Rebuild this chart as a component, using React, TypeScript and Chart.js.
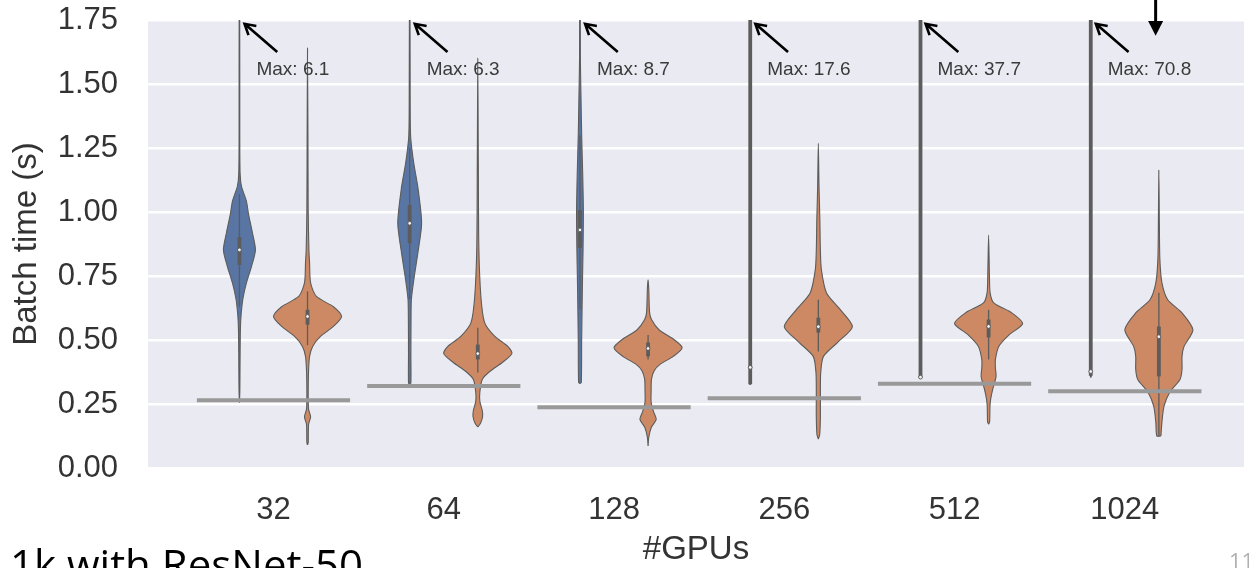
import React, { useEffect, useRef } from 'react';
import { Chart, registerables } from 'chart.js';

Chart.register(...registerables);

// ---------- data ----------
const categories = ['32', '64', '128', '256', '512', '1024'];
const maxLabels = ['Max: 6.1', 'Max: 6.3', 'Max: 8.7', 'Max: 17.6', 'Max: 37.7', 'Max: 70.8'];
const yTickValues = [0, 0.25, 0.5, 0.75, 1.0, 1.25, 1.5, 1.75];
const refLineValues = [0.265, 0.32, 0.237, 0.272, 0.329, 0.3];

// inner box statistics (blue = first hue, orange = second hue)
const blueQ1 = [0.793, 0.878, 0.86, 0.327, 0.355, 0.36];
const blueQ3 = [0.902, 1.027, 1.007, 1.8, 1.8, 1.8];
const blueMedian = [0.852, 0.956, 0.93, 0.393, 0.355, 0.377];
const blueWhiskerLow = [0.63, 0.66, 0.62, 0.325, 0.352, 0.354];
const blueWhiskerHigh = [1.07, 1.25, 1.3, 1.8, 1.8, 1.8];

const orangeQ1 = [0.56, 0.424, 0.436, 0.529, 0.51, 0.358];
const orangeQ3 = [0.618, 0.482, 0.49, 0.587, 0.58, 0.553];
const orangeMedian = [0.592, 0.447, 0.467, 0.552, 0.553, 0.513];
const orangeWhiskerLow = [0.48, 0.373, 0.424, 0.455, 0.424, 0.125];
const orangeWhiskerHigh = [0.69, 0.548, 0.52, 0.657, 0.618, 0.685];

// violin density profiles: [value, relative half-width]
const blue32: [number, number][] = [[0.255, 0], [0.3, 0.012], [0.45, 0.02], [0.55, 0.03], [0.6, 0.05], [0.66, 0.1], [0.72, 0.2], [0.79, 0.36], [0.852, 0.47], [0.92, 0.38], [0.99, 0.27], [1.045, 0.2], [1.1, 0.06], [1.15, 0.02], [1.3, 0.01], [1.8, 0.008]];
const blue64: [number, number][] = [[0.327, 0], [0.332, 0.035], [0.45, 0.035], [0.6, 0.04], [0.66, 0.05], [0.735, 0.12], [0.84, 0.24], [0.957, 0.35], [1.097, 0.24], [1.19, 0.12], [1.29, 0.03], [1.4, 0.015], [1.8, 0.008]];
const blue128: [number, number][] = [[0.33, 0], [0.335, 0.04], [0.5, 0.05], [0.7, 0.07], [0.85, 0.09], [1.0, 0.1], [1.15, 0.08], [1.3, 0.05], [1.45, 0.03], [1.6, 0.012], [1.8, 0.008]];
const blue256: [number, number][] = [[0.325, 0], [0.33, 0.01], [1.8, 0.01]];
const blue512: [number, number][] = [[0.352, 0], [0.356, 0.01], [1.8, 0.01]];
const blue1024: [number, number][] = [[0.354, 0], [0.358, 0.01], [1.8, 0.01]];

const orange32: [number, number][] = [[0.09, 0], [0.1, 0.02], [0.17, 0.03], [0.2, 0.09], [0.23, 0.03], [0.3, 0.02], [0.38, 0.03], [0.436, 0.06], [0.475, 0.15], [0.514, 0.38], [0.553, 0.76], [0.592, 1.0], [0.63, 0.76], [0.67, 0.26], [0.723, 0.09], [0.8, 0.06], [0.852, 0.04], [1.0, 0.02], [1.3, 0.012], [1.64, 0]];
const orange64: [number, number][] = [[0.16, 0], [0.175, 0.08], [0.2, 0.14], [0.225, 0.13], [0.26, 0.06], [0.296, 0.06], [0.346, 0.13], [0.377, 0.35], [0.412, 0.72], [0.447, 1.0], [0.475, 0.88], [0.514, 0.5], [0.568, 0.2], [0.67, 0.09], [0.864, 0.03], [1.2, 0.015], [1.6, 0]];
const orange128: [number, number][] = [[0.086, 0], [0.12, 0.02], [0.16, 0.1], [0.19, 0.24], [0.22, 0.16], [0.257, 0.09], [0.3, 0.09], [0.346, 0.1], [0.38, 0.18], [0.405, 0.35], [0.436, 0.74], [0.47, 1.0], [0.502, 0.76], [0.54, 0.32], [0.58, 0.1], [0.607, 0.045], [0.7, 0.02], [0.735, 0]];
const orange256: [number, number][] = [[0.113, 0], [0.13, 0.04], [0.2, 0.06], [0.3, 0.06], [0.373, 0.07], [0.436, 0.15], [0.49, 0.56], [0.552, 1.0], [0.618, 0.65], [0.684, 0.24], [0.774, 0.09], [0.85, 0.06], [0.968, 0.045], [1.1, 0.02], [1.268, 0]];
const orange512: [number, number][] = [[0.171, 0], [0.18, 0.03], [0.24, 0.04], [0.268, 0.06], [0.307, 0.12], [0.358, 0.22], [0.39, 0.2], [0.424, 0.2], [0.475, 0.3], [0.52, 0.6], [0.564, 1.0], [0.606, 0.68], [0.645, 0.15], [0.684, 0.045], [0.75, 0.025], [0.91, 0]];
const orange1024: [number, number][] = [[0.125, 0.06], [0.179, 0.09], [0.241, 0.15], [0.296, 0.32], [0.346, 0.62], [0.385, 0.68], [0.436, 0.68], [0.475, 0.74], [0.54, 1.0], [0.606, 0.68], [0.657, 0.26], [0.723, 0.09], [0.813, 0.03], [0.95, 0.015], [1.163, 0]];

const blueProfiles = [blue32, blue64, blue128, blue256, blue512, blue1024];
const orangeProfiles = [orange32, orange64, orange128, orange256, orange512, orange1024];

// ---------- styling ----------
const FONT = "'Liberation Sans', Arial, Helvetica, sans-serif";
const TEXT = '#333333';
const BLUE = '#5875A3';
const ORANGE = '#CC8963';
const EDGE = '#5c5c5c';
const BG = '#EAEAF2';
const HALF = 0.2; // max half-width of a violin, in category units
const DODGE = 0.2;
const REF_HALF = 0.45;

function violinPoints(center: number, profile: [number, number][]) {
  const right = profile.map(([y, w]) => ({ x: center + w * HALF, y }));
  const rev = [...profile].reverse();
  const left: { x: number; y: number }[] = [];
  rev.forEach(([y, w], k) => {
    if (k === 0 && w === 0) return;
    if (k === rev.length - 1 && w === 0) return;
    left.push({ x: center - w * HALF, y });
  });
  return [...right, ...left, right[0]];
}

function buildDatasets() {
  const ds: any[] = [];
  const groups = [
    { profiles: blueProfiles, q1: blueQ1, q3: blueQ3, med: blueMedian, wl: blueWhiskerLow, wh: blueWhiskerHigh, off: -DODGE, color: BLUE },
    { profiles: orangeProfiles, q1: orangeQ1, q3: orangeQ3, med: orangeMedian, wl: orangeWhiskerLow, wh: orangeWhiskerHigh, off: DODGE, color: ORANGE },
  ];
  groups.forEach((g) => {
    categories.forEach((_, i) => {
      const c = i + g.off;
      ds.push({
        data: violinPoints(c, g.profiles[i]),
        borderColor: EDGE,
        borderWidth: 1.1,
        backgroundColor: g.color,
        fill: 'shape',
        tension: 0.25,
        pointRadius: 0,
        order: 4,
      });
      ds.push({
        data: [{ x: c, y: g.wl[i] }, { x: c, y: g.wh[i] }],
        borderColor: EDGE,
        borderWidth: 1.3,
        pointRadius: 0,
        fill: false,
        order: 3,
      });
      ds.push({
        data: [{ x: c, y: g.q1[i] }, { x: c, y: g.q3[i] }],
        borderColor: EDGE,
        borderWidth: 3.8,
        pointRadius: 0,
        fill: false,
        order: 1,
      });
      ds.push({
        data: [{ x: c, y: g.med[i] }],
        showLine: false,
        pointRadius: 1.9,
        pointBackgroundColor: '#f4f4f4',
        pointBorderColor: EDGE,
        pointBorderWidth: 1,
        order: 0,
      });
    });
  });
  refLineValues.forEach((v, i) => {
    ds.push({
      data: [{ x: i - REF_HALF, y: v }, { x: i + REF_HALF, y: v }],
      borderColor: '#999999',
      borderWidth: 4,
      pointRadius: 0,
      fill: false,
      order: 2,
    });
  });
  return ds;
}

const backgroundPlugin = {
  id: 'bgArea',
  beforeDraw(chart: any) {
    const { ctx, chartArea } = chart;
    ctx.save();
    ctx.fillStyle = BG;
    ctx.fillRect(chartArea.left, chartArea.top, chartArea.right - chartArea.left, chartArea.bottom - chartArea.top);
    ctx.restore();
  },
};

function drawOpenArrow(ctx: CanvasRenderingContext2D, x0: number, y0: number, x1: number, y1: number) {
  const ang = Math.atan2(y1 - y0, x1 - x0);
  const len = 12;
  const spread = Math.PI / 6;
  ctx.beginPath();
  ctx.moveTo(x0, y0);
  ctx.lineTo(x1, y1);
  ctx.moveTo(x1 - len * Math.cos(ang - spread), y1 - len * Math.sin(ang - spread));
  ctx.lineTo(x1, y1);
  ctx.lineTo(x1 - len * Math.cos(ang + spread), y1 - len * Math.sin(ang + spread));
  ctx.stroke();
}

const annotationPlugin = {
  id: 'maxNotes',
  afterDraw(chart: any) {
    const { ctx } = chart;
    const xs = chart.scales.x;
    const ys = chart.scales.y;
    ctx.save();
    ctx.strokeStyle = '#000000';
    ctx.fillStyle = '#000000';
    ctx.lineWidth = 2.6;
    ctx.lineCap = 'butt';
    ctx.lineJoin = 'miter';
    categories.forEach((_, i) => {
      const c = i - DODGE;
      drawOpenArrow(
        ctx,
        xs.getPixelForValue(c + 0.222), ys.getPixelForValue(1.625),
        xs.getPixelForValue(c + 0.03), ys.getPixelForValue(1.735)
      );
    });
    ctx.font = `19px ${FONT}`;
    ctx.fillStyle = '#3a3a3a';
    ctx.textAlign = 'left';
    ctx.textBaseline = 'middle';
    maxLabels.forEach((t, i) => {
      ctx.fillText(t, xs.getPixelForValue(i - DODGE + 0.1), ys.getPixelForValue(1.556));
    });
    // extra downward arrow near the last group
    const ax = xs.getPixelForValue(5.181);
    const tipY = ys.getPixelForValue(1.688);
    const baseY = ys.getPixelForValue(1.746);
    ctx.fillStyle = '#000000';
    ctx.lineWidth = 3;
    ctx.beginPath();
    ctx.moveTo(ax, ys.getPixelForValue(1.84));
    ctx.lineTo(ax, baseY + 1);
    ctx.stroke();
    ctx.beginPath();
    ctx.moveTo(ax - 7.5, baseY);
    ctx.lineTo(ax + 7.5, baseY);
    ctx.lineTo(ax, tipY);
    ctx.closePath();
    ctx.fill();
    ctx.restore();
  },
};

export default function App() {
  const canvasRef = useRef<HTMLCanvasElement | null>(null);

  useEffect(() => {
    if (!canvasRef.current) return;
    Chart.defaults.font.family = FONT;
    Chart.defaults.color = TEXT;
    const chart = new Chart(canvasRef.current, {
      type: 'line',
      data: { datasets: buildDatasets() },
      options: {
        animation: false,
        responsive: false,
        devicePixelRatio: 1,
        layout: { padding: { top: 20, left: 0, right: 0, bottom: 0 } },
        plugins: { legend: { display: false }, tooltip: { enabled: false } },
        events: [],
        scales: {
          x: {
            type: 'linear',
            min: -0.737,
            max: 5.7,
            afterBuildTicks: (s: any) => {
              s.ticks = categories.map((_, i) => ({ value: i }));
            },
            ticks: {
              callback: (v: any) => categories[Math.round(Number(v))],
              font: { size: 31, family: FONT },
              color: TEXT,
              padding: 24,
              autoSkip: false,
              maxRotation: 0,
            },
            grid: { display: false, drawTicks: false },
            border: { display: false },
            title: {
              display: true,
              text: '#GPUs',
              color: TEXT,
              font: { size: 33, family: FONT, lineHeight: 1.0 },
              padding: { top: 0, bottom: 1.5 },
            },
            afterFit: (s: any) => {
              s.height = 100;
              s.paddingLeft = 0;
              s.paddingRight = 0;
            },
          },
          y: {
            type: 'linear',
            min: 0,
            max: 1.75,
            afterBuildTicks: (s: any) => {
              s.ticks = yTickValues.map((v) => ({ value: v }));
            },
            ticks: {
              callback: (v: any) => Number(v).toFixed(2),
              font: { size: 31, family: FONT },
              color: TEXT,
              padding: 30,
            },
            grid: { color: '#ffffff', lineWidth: 2.5, drawTicks: false },
            border: { display: false },
            title: {
              display: true,
              text: 'Batch time (s)',
              color: TEXT,
              font: { size: 33, family: FONT, lineHeight: 1.2 },
              padding: { top: 7, bottom: 0 },
            },
            afterFit: (s: any) => {
              s.width = 148;
              s.paddingTop = 0;
              s.paddingBottom = 0;
            },
          },
        },
      },
      plugins: [backgroundPlugin, annotationPlugin],
    });
    return () => chart.destroy();
  }, []);

  return (
    <div
      style={{
        position: 'absolute',
        left: 0,
        top: 0,
        width: 1249,
        height: 568,
        overflow: 'hidden',
        background: '#ffffff',
      }}
    >
      <canvas ref={canvasRef} width={1249} height={568} style={{ display: 'block' }} />
      <div
        style={{
          position: 'absolute',
          left: 10,
          top: 543,
          fontFamily: "'Open Sans', sans-serif",
          fontSize: 42,
          lineHeight: '42px',
          color: '#000000',
          whiteSpace: 'nowrap',
        }}
      >
        1k with ResNet-50
      </div>
      <div
        style={{
          position: 'absolute',
          left: 1229,
          top: 549,
          fontFamily: "'Open Sans', sans-serif",
          fontSize: 22,
          lineHeight: '22px',
          color: '#b0b0b0',
          whiteSpace: 'nowrap',
        }}
      >
        11
      </div>
    </div>
  );
}
